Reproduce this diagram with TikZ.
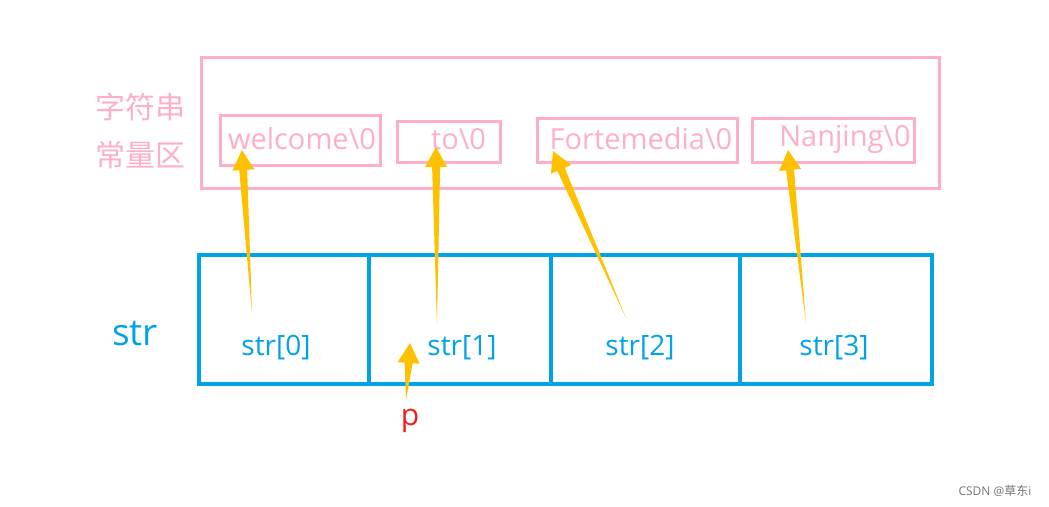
\documentclass[tikz,border=0pt]{standalone}
\usepackage{fontspec}
\setmainfont{Open Sans}
\newfontfamily\cjk{Noto Sans CJK SC}
\usetikzlibrary{calc}
\usetikzlibrary{positioning}

\definecolor{pinkline}{RGB}{255,174,201}
\definecolor{bluecell}{RGB}{0,162,232}
\definecolor{gold}{RGB}{255,192,0}
\definecolor{redtext}{RGB}{240,30,30}

% tapered arrow from tail #1 to tip #2
\newcommand{\taperarrow}[2]{
\fill[gold] (#1) -- ($($(#2)!20pt!(#1)$)!4pt!90:(#1)$) -- ($($(#2)!20pt!(#1)$)!11pt!90:(#1)$) -- (#2)
  -- ($($(#2)!20pt!(#1)$)!11pt!-90:(#1)$) -- ($($(#2)!20pt!(#1)$)!4pt!-90:(#1)$) -- cycle;
}

\begin{document}
\begin{tikzpicture}[x=1pt,y=-1pt,
  strbox/.style={draw=pinkline,line width=3pt,inner sep=0pt},
  strtext/.style={text=pinkline,font=\fontsize{29}{32}\selectfont,inner sep=0pt},
  cell/.style={draw=bluecell,line width=3.5pt,minimum width=#1,minimum height=129pt,inner sep=0pt},
  celltext/.style={text=bluecell,font=\fontsize{28}{32}\selectfont}]
\useasboundingbox (0,0) rectangle (1049,506);

% constant area
\node[draw=pinkline,line width=3pt,minimum width=738pt,minimum height=131pt] (pool) at (570,122.5) {};
\node[text=pinkline,font=\cjk\fontsize{30}{48}\selectfont,align=center] (poollabel) at (140,131) {字符串\\常量区};

\node[strbox,minimum width=160pt,minimum height=50pt] (s0) at (300,140) {};
\node[strbox,minimum width=103pt,minimum height=41pt] (s1) at (448.5,141.5) {};
\node[strbox,minimum width=200pt,minimum height=44pt] (s2) at (637,140) {};
\node[strbox,minimum width=162pt,minimum height=44pt] (s3) at (833,140) {};

\node[strtext] (w0) at (302,139) {welcome\textbackslash0};
\node[strtext] (w1) at (458.5,139) {to\textbackslash0};
\node[strtext] (w2) at (641,139) {Fortemedia\textbackslash0};
\node[strtext] (w3) at (845,139) {Nanjing\textbackslash0};

% pointer array
\node[cell=170pt] (c0) at (284,319.5) {};
\node[cell=182pt] (c1) at (460,319.5) {};
\node[cell=189pt] (c2) at (645.5,319.5) {};
\node[cell=192pt] (c3) at (836,319.5) {};

\node[celltext] (t0) at (276,348) {str[0]};
\node[celltext] (t1) at (462,348) {str[1]};
\node[celltext] (t2) at (640,348) {str[2]};
\node[celltext] (t3) at (834,348) {str[3]};

\node[text=bluecell,font=\fontsize{37}{40}\selectfont] (arr) at (135,333) {str};
\node[text=redtext,font=\fontsize{30}{34}\selectfont] (p) at (410,421) {p};

% arrows
\coordinate (a0) at (252,313); \coordinate (h0) at (242,150);
\coordinate (a1) at (437,325); \coordinate (h1) at (436,147);
\coordinate (a2) at (626,318); \coordinate (h2) at (553,151);
\coordinate (a3) at (806,323); \coordinate (h3) at (788,150);
\coordinate (ap) at (406,400); \coordinate (hp) at (410,343);
\taperarrow{a0}{h0}
\taperarrow{a1}{h1}
\taperarrow{a2}{h2}
\taperarrow{a3}{h3}
\taperarrow{ap}{hp}

\node[text=black!55,font=\fontsize{12}{14}\selectfont] (mark) at (995,491) {CSDN @{\cjk 草东}i};
\end{tikzpicture}
\end{document}
